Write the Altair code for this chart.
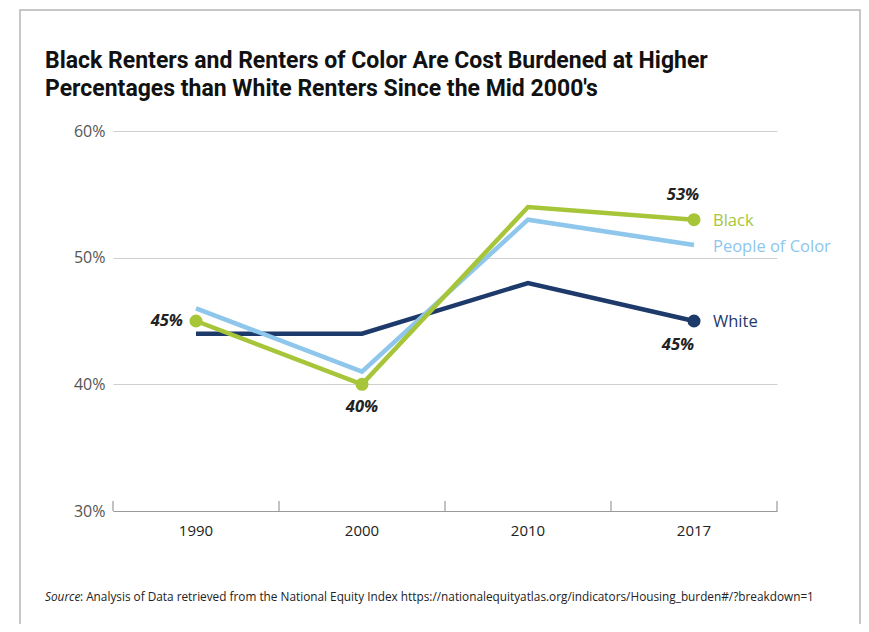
import altair as alt
import pandas as pd

years = ["1990", "2000", "2010", "2017"]
black = [45, 40, 54, 53]
poc = [46, 41, 53, 51]
white = [44, 44, 48, 45]
series_names = ["White", "People of Color", "Black"]
series_colors = ["#1d3a6b", "#8ec6ec", "#a7c539"]
y_ticks = [30, 40, 50, 60]

title_lines = [
    "Black Renters and Renters of Color Are Cost Burdened at Higher",
    "Percentages than White Renters Since the Mid 2000's",
]
source_label = "Source"
source_rest = ": Analysis of Data retrieved from the National Equity Index https://nationalequityatlas.org/indicators/Housing_burden#/?breakdown=1"

rows = []
for name, vals in zip(["White", "People of Color", "Black"], [white, poc, black]):
    for yr, v in zip(years, vals):
        rows.append({"year": yr, "series": name, "value": v})
df = pd.DataFrame(rows)

W, H = 664, 380
FONT = "Open Sans"

xenc = alt.X("year:N", sort=years, scale=alt.Scale(paddingInner=0, paddingOuter=0),
             axis=alt.Axis(title=None, ticks=False, domainColor="#9a9a9a", domainWidth=1.2,
                           labelFont=FONT, labelFontSize=15, labelColor="#222",
                           labelPadding=12, labelAngle=0))
yenc = alt.Y("value:Q", scale=alt.Scale(domain=[30, 60]),
             axis=alt.Axis(title=None, values=y_ticks, domain=False, ticks=False,
                           labelExpr="datum.value + '%'", labelFont=FONT, labelFontSize=16,
                           labelColor="#555", labelPadding=8, gridColor="#cfcfcf",
                           gridWidth=1.2))
color = alt.Color("series:N", scale=alt.Scale(domain=series_names, range=series_colors), legend=None)

base = alt.Chart(df)

card = alt.Chart(pd.DataFrame({"a": [0]})).mark_rect(
    fillOpacity=0, stroke="#b5b5b5", strokeWidth=1.5
).encode(x=alt.value(-93), x2=alt.value(747), y=alt.value(-121), y2=alt.value(600))

line_layers = [
    base.transform_filter(alt.datum.series == s).mark_line(strokeWidth=4.5, color=c).encode(
        x=xenc, y=yenc)
    for s, c in zip(series_names, series_colors)
]

pts = base.transform_filter(
    "(datum.series == 'Black' && datum.year != '2010') || (datum.series == 'White' && datum.year == '2017')"
).mark_circle(size=170, opacity=1).encode(x=xenc, y=yenc, color=color)

tick_df = pd.DataFrame({"year": years})
ticks = alt.Chart(tick_df).mark_rule(color="#9a9a9a", strokeWidth=1.2).encode(
    x=alt.X("year:N", sort=years, bandPosition=0), y=alt.value(H - 10), y2=alt.value(H))
tick_end = alt.Chart(tick_df.head(1)).mark_rule(color="#9a9a9a", strokeWidth=1.2).encode(
    x=alt.value(W), y=alt.value(H - 10), y2=alt.value(H))

def vlabel(series, year, dx, dy, align):
    return base.transform_filter(
        (alt.datum.series == series) & (alt.datum.year == year)
    ).mark_text(font=FONT, fontSize=16.5, fontWeight="bold", fontStyle="italic", color="#222",
                dx=dx, dy=dy, align=align, baseline="middle").encode(
        x=xenc, y=yenc, text=alt.Text("label:N")
    ).transform_calculate(label="datum.value + '%'")

labels = [
    vlabel("Black", "1990", -13, 0, "right"),
    vlabel("Black", "2000", 0, 23, "center"),
    vlabel("Black", "2017", -11, -25, "center"),
    vlabel("White", "2017", -16, 24, "center"),
]

def slabel(series, c, dy):
    return base.transform_filter(
        (alt.datum.series == series) & (alt.datum.year == "2017")
    ).mark_text(font=FONT, fontSize=16.5, color=c, dx=19, dy=dy, align="left",
                baseline="middle").encode(x=xenc, y=yenc, text="series:N")

series_labels = [
    slabel("Black", series_colors[2], 1),
    slabel("People of Color", series_colors[1], 2),
    slabel("White", series_colors[0], 1),
]

title_df = pd.DataFrame({"t": title_lines, "i": [0, 1]})
title_marks = [
    alt.Chart(title_df.iloc[[i]]).mark_text(
        font="Roboto", fontSize=23, fontWeight="bold", color="#111",
        align="left", baseline="middle"
    ).encode(x=alt.value(-68), y=alt.value(-70 + 28 * i), text="t:N")
    for i in range(2)
]

src1 = alt.Chart(pd.DataFrame({"t": [source_label]})).mark_text(
    font=FONT, fontSize=11.8, fontStyle="italic", color="#222", align="left", baseline="middle"
).encode(x=alt.value(-68), y=alt.value(466), text="t:N")
src2 = alt.Chart(pd.DataFrame({"t": [source_rest]})).mark_text(
    font=FONT, fontSize=11.8, color="#222", align="left", baseline="middle"
).encode(x=alt.value(-33), y=alt.value(466), text="t:N")

chart = alt.layer(
    card, *line_layers, pts, ticks, tick_end, *labels, *series_labels, *title_marks, src1, src2
).properties(
    width=W, height=H,
    padding={"left": 105, "top": 123, "right": 84, "bottom": 113},
    autosize=alt.AutoSizeParams(type="none"),
).configure_view(stroke=None)

chart.save("out.html", embed_options={"renderer": "svg", "actions": False})
